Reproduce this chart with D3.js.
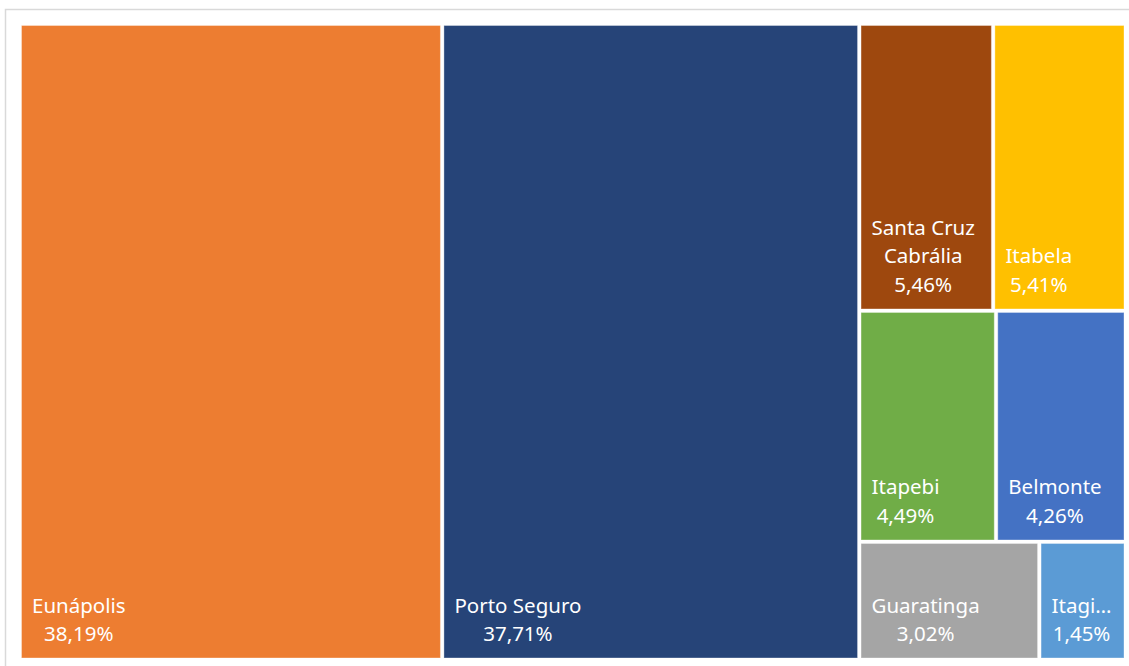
<!DOCTYPE html>
<html>
<head>
<meta charset="utf-8">
<script src="https://cdn.jsdelivr.net/npm/d3@7"></script>
<style>
    body { margin: 0; background: #fff; }
    svg { display: block; }
</style>
</head>
<body>
<svg class="treemap" width="1129" height="666"></svg>
<script>

// municipios e participacao (%)
const names = ["Eunápolis", "Porto Seguro", "Santa Cruz Cabrália", "Itabela", "Itapebi", "Belmonte", "Guaratinga", "Itagimirim"];
const values = [38.19, 37.71, 5.46, 5.41, 4.49, 4.26, 3.02, 1.45];
const labels = ["38,19%", "37,71%", "5,46%", "5,41%", "4,49%", "4,26%", "3,02%", "1,45%"];
const colors = ["#ED7D31", "#264478", "#9E480E", "#FFC000", "#70AD47", "#4472C4", "#A5A5A5", "#5B9BD5"];

const W = 1129, H = 666;
const area = { x0: 21.5, y0: 25.5, x1: 1124, y1: 658 };
const fontSize = 20.5;
const lineH = 28.5;

let svg = d3.select("svg.treemap");

// moldura do grafico
svg.append("rect")
    .attr("x", 5.5)
    .attr("y", 9.5)
    .attr("width", W + 20)
    .attr("height", H + 20)
    .attr("fill", "none")
    .attr("stroke", "#d9d9d9")
    .attr("stroke-width", 1.5);

let data = {
    name: "root",
    children: names.map((n, i) => ({ name: n, value: values[i], label: labels[i], color: colors[i] }))
};

let root = d3.hierarchy(data)
    .sum(d => d.value || 0)
    .sort((a, b) => b.value - a.value);

d3.treemap()
    .tile(d3.treemapSquarify.ratio(1.2))
    .size([area.x1 - area.x0, area.y1 - area.y0])
    .paddingInner(3.5)(root);

let g = svg.append("g")
    .attr("transform", "translate(" + area.x0 + "," + area.y0 + ")");

let cell = g.selectAll("g.cell")
    .data(root.leaves())
    .join("g")
    .attr("class", "cell");

cell.append("rect")
    .attr("x", d => d.x0)
    .attr("y", d => d.y0)
    .attr("width", d => d.x1 - d.x0)
    .attr("height", d => d.y1 - d.y0)
    .attr("fill", d => d.data.color)
    .attr("stroke", "#fff")
    .attr("stroke-opacity", 0.35)
    .attr("stroke-width", 1);

// medir texto para quebrar linhas
let measure = svg.append("text")
    .attr("font-family", "'Noto Sans', sans-serif")
    .attr("font-size", fontSize)
    .attr("visibility", "hidden");

function textWidth(s) {
    measure.text(s);
    return measure.node().getComputedTextLength();
}

function wrap(name, maxW) {
    let words = name.split(" ");
    let lines = [];
    let cur = "";
    for (let w of words) {
        let test = cur ? cur + " " + w : w;
        if (textWidth(test) <= maxW) {
            cur = test;
        } else {
            if (cur) lines.push(cur);
            cur = w;
        }
    }
    if (cur) lines.push(cur);
    // corta palavras longas demais
    return lines.map(l => {
        if (textWidth(l) <= maxW) return l;
        let s = l;
        while (s.length > 1 && textWidth(s + "…") > maxW) s = s.slice(0, -1);
        return s + "…";
    });
}

cell.each(function (d) {
    let w = d.x1 - d.x0;
    let pad = 10.5;
    let lines = wrap(d.data.name, w - 2 * pad + 4);
    lines.push(d.data.label);

    let blockW = d3.max(lines, l => textWidth(l));
    let cx = d.x0 + pad + blockW / 2;
    let lastY = d.y1 - 17;

    let t = d3.select(this).append("text")
        .attr("font-family", "'Noto Sans', sans-serif")
        .attr("font-size", fontSize)
        .attr("fill", "#fff")
        .attr("text-anchor", "middle");

    lines.forEach((l, i) => {
        t.append("tspan")
            .attr("x", cx)
            .attr("y", lastY - (lines.length - 1 - i) * lineH)
            .text(l);
    });
});

measure.remove();

</script>
</body>
</html>
